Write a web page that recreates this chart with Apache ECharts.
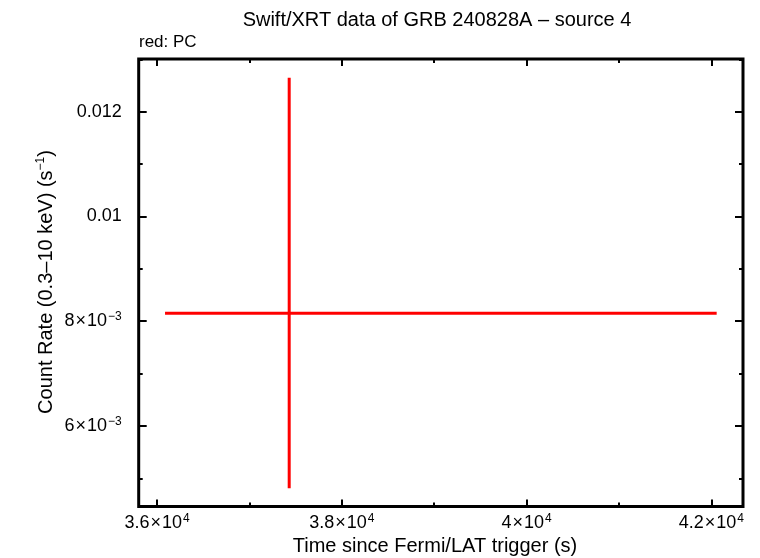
<!DOCTYPE html>
<html>
<head>
<meta charset="utf-8">
<script src="https://cdn.jsdelivr.net/npm/echarts@6/dist/echarts.min.js"></script>
<style>html,body{margin:0;padding:0;background:#fff}#c{width:760px;height:558px}</style>
</head>
<body>
<div id="c"></div>
<script>
// ---- data ----
const titleText = 'Swift/XRT data of GRB 240828A \u2013 source 4';
const legendText = 'red: PC';
const xAxisTitle = 'Time since Fermi/LAT trigger (s)';
const yAxisTitle = ['Count Rate (0.3\u201310 keV) (s', '\u22121', ')'];

const xRange = [35802, 42343];
const yRange = [0.004463, 0.013006];

const xTickValues = [36000, 38000, 40000, 42000];
const xTickLabels = [['3.6', '10', '4'], ['3.8', '10', '4'], ['4', '10', '4'], ['4.2', '10', '4']];
const xMinorValues = [37000, 39000, 41000];

const yTickValues = [0.006, 0.008, 0.01, 0.012];
const yTickLabels = [['6', '10', '\u22123'], ['8', '10', '\u22123'], ['0.01'], ['0.012']];
const yMinorValues = [0.005, 0.007, 0.009, 0.011, 0.013];

// PC mode point: time, time error low/high bound, rate, rate low/high bound
const pcTime = [37431];
const pcTimeLo = [36087];
const pcTimeHi = [42058];
const pcRate = [0.008153];
const pcRateLo = [0.004811];
const pcRateHi = [0.012649];

// ---- chart ----
const FONT = '"Liberation Sans", Arial, Helvetica, sans-serif';
const chart = echarts.init(document.getElementById('c'), null, {renderer: 'canvas'});

function lookup(vals, labels, v) {
  for (let i = 0; i < vals.length; i++) {
    if (Math.abs(vals[i] - v) < Math.abs(vals[i]) * 1e-6 + 1e-12) return labels[i];
  }
  return null;
}
function fmt(vals, labels) {
  return function (v) {
    const l = lookup(vals, labels, v);
    if (!l) return '';
    if (l.length === 1) return '{m|' + l[0] + '}';
    return '{m|' + l[0] + '}{x|\u00d7}{m|' + l[1] + '}{s|' + l[2] + '}';
  };
}
const rich = {
  m: {fontSize: 18, fontFamily: FONT, color: '#000'},
  x: {fontSize: 18, fontFamily: FONT, color: '#000', padding: [0, 1, 0, 1]},
  s: {fontSize: 12, fontFamily: FONT, color: '#000', padding: [0, 0, 9, 1]}
};

function xAx(pos, vals, len, labels) {
  return {
    type: 'value', position: pos, min: xRange[0], max: xRange[1],
    axisLine: {show: false}, splitLine: {show: false},
    axisTick: {show: true, inside: true, length: len, customValues: vals, lineStyle: {color: '#000', width: 2}},
    axisLabel: labels ? {show: true, customValues: vals, margin: 6, formatter: fmt(vals, labels), rich: rich} : {show: false}
  };
}
function yAx(pos, vals, len, labels) {
  return {
    type: 'value', position: pos, min: yRange[0], max: yRange[1],
    axisLine: {show: false}, splitLine: {show: false},
    axisTick: {show: true, inside: true, length: len, customValues: vals, lineStyle: {color: '#000', width: 2}},
    axisLabel: labels ? {show: true, customValues: vals, margin: 17, formatter: fmt(vals, labels), rich: rich} : {show: false}
  };
}

const pcData = pcTime.map((t, i) => [t, pcRate[i], pcTimeLo[i], pcTimeHi[i], pcRateLo[i], pcRateHi[i]]);

chart.setOption({
  animation: false,
  backgroundColor: '#fff',
  grid: {left: 138.7, top: 59, right: 17, bottom: 51.5, show: true, borderColor: '#000', borderWidth: 3, backgroundColor: 'transparent', z: 10},
  xAxis: [
    xAx('bottom', xTickValues, 7, xTickLabels),
    xAx('bottom', xMinorValues, 4, null),
    xAx('top', xTickValues, 7, null),
    xAx('top', xMinorValues, 4, null)
  ],
  yAxis: [
    yAx('left', yTickValues, 8, yTickLabels),
    yAx('left', yMinorValues, 4, null),
    yAx('right', yTickValues, 8, null),
    yAx('right', yMinorValues, 4, null)
  ],
  graphic: [
    {type: 'text', x: 437, y: 10, style: {text: titleText, font: '20px ' + FONT, fill: '#000', textAlign: 'center'}},
    {type: 'text', x: 139, y: 34, style: {text: legendText, font: '17px ' + FONT, fill: '#000'}},
    {type: 'text', x: 435, y: 536, style: {text: xAxisTitle, font: '20px ' + FONT, fill: '#000', textAlign: 'center'}},
    {type: 'text', x: 46, y: 282, rotation: Math.PI / 2,
     style: {text: '{m|' + yAxisTitle[0] + '}{s|' + yAxisTitle[1] + '}{m|' + yAxisTitle[2] + '}', fill: '#000', textAlign: 'center', textVerticalAlign: 'middle',
       rich: {m: {fontSize: 20, fontFamily: FONT}, s: {fontSize: 12, fontFamily: FONT, padding: [0, 0, 10, 0]}}}}
  ],
  series: [{
    type: 'custom',
    xAxisIndex: 0, yAxisIndex: 0,
    data: pcData,
    renderItem: function (params, api) {
      const xl = api.coord([api.value(2), api.value(1)]);
      const xh = api.coord([api.value(3), api.value(1)]);
      const yl = api.coord([api.value(0), api.value(4)]);
      const yh = api.coord([api.value(0), api.value(5)]);
      const st = {stroke: '#ff0000', lineWidth: 3};
      return {type: 'group', children: [
        {type: 'line', shape: {x1: xl[0], y1: xl[1], x2: xh[0], y2: xh[1]}, style: st},
        {type: 'line', shape: {x1: yl[0], y1: yl[1], x2: yh[0], y2: yh[1]}, style: st}
      ]};
    }
  }]
});
</script>
</body>
</html>
